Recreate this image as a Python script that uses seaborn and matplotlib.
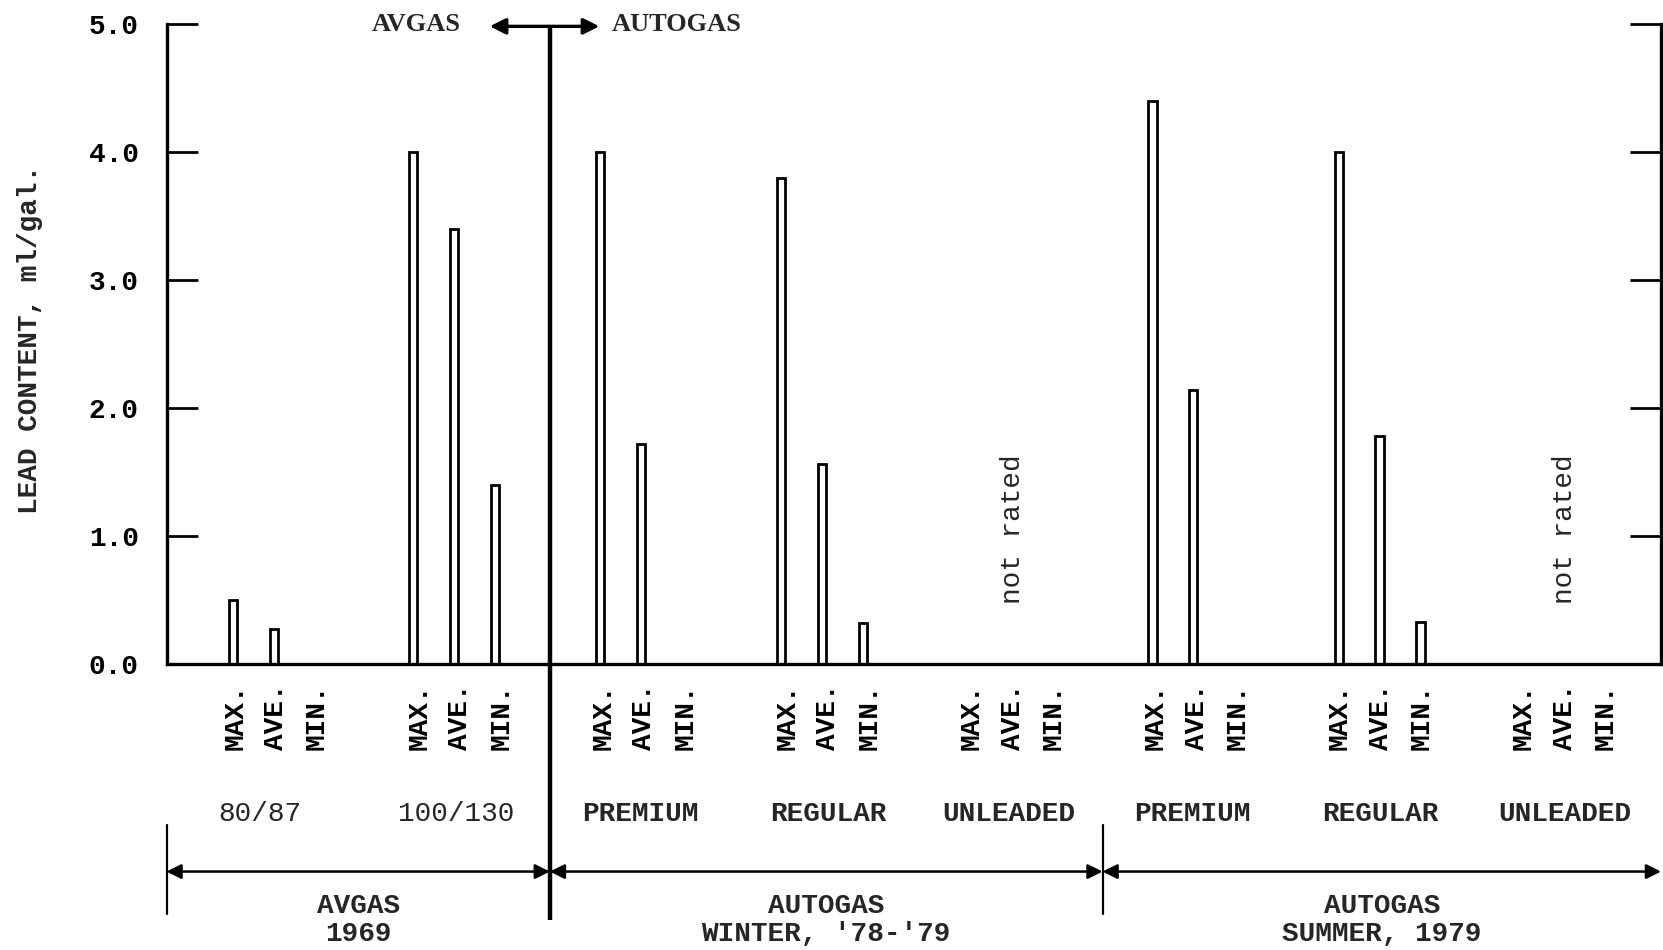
import numpy as np
import pandas as pd
import matplotlib
matplotlib.use("Agg")
import matplotlib.pyplot as plt
import seaborn as sns

# ---- data -------------------------------------------------------------
grades = ["80/87", "100/130", "PREMIUM", "REGULAR", "UNLEADED",
          "PREMIUM", "REGULAR", "UNLEADED"]
stats = ["MAX.", "AVE.", "MIN."]
max_vals = [0.50, 4.00, 4.00, 3.80, np.nan, 4.40, 4.00, np.nan]
ave_vals = [0.27, 3.40, 1.72, 1.56, np.nan, 2.14, 1.78, np.nan]
min_vals = [0.00, 1.40, 0.00, 0.32, np.nan, 0.00, 0.33, np.nan]
periods = ["AVGAS\n1969", "AUTOGAS\nWINTER, '78-'79", "AUTOGAS\nSUMMER, 1979"]
y_ticks = [0.0, 1.0, 2.0, 3.0, 4.0, 5.0]
not_rated_text = "not rated"

# ---- layout helpers ---------------------------------------------------
GROUP_STEP = 4.5
# hand-drawn bars sit slightly left of their labels in some groups
bar_shift = [-0.05, -0.16, -0.08, -0.16, 0.0, -0.08, -0.03, 0.0]
# grade captions are typed a little off-centre in places
label_shift = [-0.4, -0.1, -0.1, 0.0, -0.1, -0.1, 0.0, 0.0]

tick_pos, bar_pos, values = [], [], []
for g in range(len(grades)):
    for i, v in enumerate([max_vals[g], ave_vals[g], min_vals[g]]):
        tick_pos.append(GROUP_STEP * g + i)
        bar_pos.append(GROUP_STEP * g + i + bar_shift[g])
        values.append(v)
df = pd.DataFrame({"pos": bar_pos, "value": values})

sns.set_theme(style="white")
plt.rcParams["font.family"] = ["Liberation Mono", "DejaVu Sans Mono"]

fig = plt.figure(figsize=(16.63, 9.5), dpi=100)
ax = fig.add_axes([166.5 / 1663, 0.3013, (1661 - 166.5) / 1663, 0.673])

sns.barplot(data=df.dropna(), x="pos", y="value", native_scale=True,
            width=0.2, color="white", edgecolor="black", linewidth=2,
            errorbar=None, ax=ax)

x_left, x_right = -1.68, 34.85
ax.set_xlim(x_left, x_right)
ax.set_ylim(0, 5.0)

# spines and ticks
for side in ["left", "bottom", "right"]:
    ax.spines[side].set_visible(True)
    ax.spines[side].set_color("black")
    ax.spines[side].set_linewidth(2.4)
ax.spines["top"].set_visible(False)

ax.set_yticks(y_ticks)
ax.set_yticklabels([f"{t:.1f}" for t in y_ticks], fontsize=20, fontweight="bold")
ax.tick_params(axis="y", which="both", direction="in", length=22, width=2,
               left=True, right=True, labelleft=True, labelright=False,
               pad=20, colors="black")

ax.set_xticks(tick_pos)
ax.set_xticklabels(stats * len(grades), rotation=90, fontsize=20,
                   fontweight="bold")
ax.tick_params(axis="x", length=0, pad=14, colors="black")
ax.set_xlabel("")
ax.set_ylabel("")

ax.text(-0.0915, 0.508, "LEAD CONTENT, ml/gal.", rotation=90, fontsize=20,
        fontweight="bold", ha="center", va="center", transform=ax.transAxes)

# "not rated" notes for unleaded groups
for g, v in enumerate(max_vals):
    if np.isnan(v):
        ax.text(GROUP_STEP * g + 1, 1.05, not_rated_text, rotation=90,
                fontsize=20, ha="center", va="center")

# period boundaries
div1 = 7.69
div2 = 21.2
bounds = [x_left, div1, div2, x_right]
xtr = ax.get_xaxis_transform()

# thick AVGAS/AUTOGAS divider
ax.plot([div1, div1], [-0.401, 0.997], color="black", lw=3.2,
        transform=xtr, clip_on=False, solid_capstyle="butt")
ax.annotate("", xy=(6.22, 4.985), xytext=(8.9, 4.985),
            arrowprops=dict(arrowstyle="<|-|>", mutation_scale=24, lw=2.4,
                            color="black", shrinkA=0, shrinkB=0),
            annotation_clip=False)
ax.text(5.52, 5.0, "AVGAS", ha="right", va="center", fontsize=19,
        family="Liberation Serif", fontweight="bold")
ax.text(9.2, 5.0, "AUTOGAS", ha="left", va="center", fontsize=19,
        family="Liberation Serif", fontweight="bold")

# short vertical brackets
for xb in [x_left, div2]:
    ax.plot([xb, xb], [-0.252, -0.391], color="black", lw=1.6,
            transform=xtr, clip_on=False)

# span arrows and period titles
for k in range(3):
    a, b = bounds[k], bounds[k + 1]
    ax.annotate("", xy=(a, -0.325), xytext=(b, -0.325),
                xycoords=xtr, textcoords=xtr,
                arrowprops=dict(arrowstyle="<|-|>", mutation_scale=22, lw=1.8,
                                color="black", shrinkA=0, shrinkB=0),
                annotation_clip=False)
    ax.text((a + b) / 2, -0.40, periods[k], ha="center", va="center",
            fontsize=20, fontweight="bold", linespacing=1.1, transform=xtr)

# grade labels
for g, name in enumerate(grades):
    weight = "normal" if g < 2 else "bold"
    ax.text(GROUP_STEP * g + 1 + label_shift[g], -0.2355, name, ha="center",
            va="center", fontsize=20, fontweight=weight, transform=xtr)

fig.savefig("out.png", dpi=100, facecolor="white")
